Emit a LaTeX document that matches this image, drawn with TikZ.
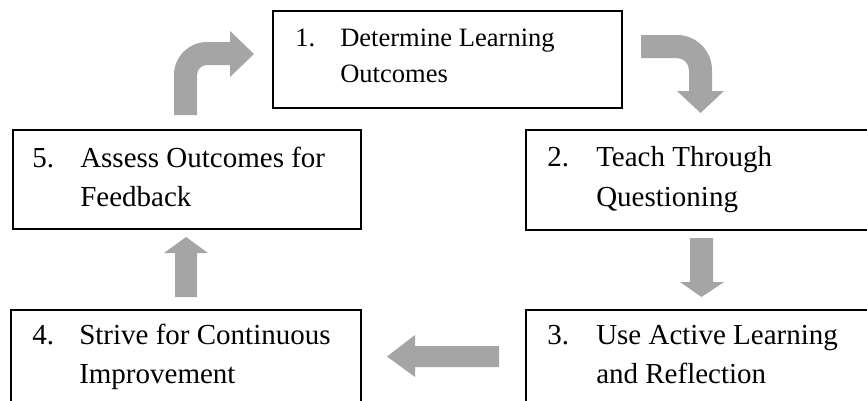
\documentclass[tikz,border=0pt]{standalone}
\usepackage{fontspec}
\setmainfont{Liberation Serif}
\definecolor{arrowgray}{HTML}{A5A5A5}
\tikzset{
  stepbox/.style={draw=black, line width=1.3pt, fill=white, rectangle, inner sep=0pt, anchor=north west},
  numtext/.style={inner sep=0pt, anchor=base west, font=\fontsize{21.75}{29}\selectfont},
  smalltext/.style={inner sep=0pt, anchor=base west, font=\fontsize{19.9}{26}\selectfont},
  blockarrow/.style={fill=arrowgray, draw=none}
}
\begin{document}
\begin{tikzpicture}[x=0.75pt, y=-0.75pt]
\useasboundingbox (0,0) rectangle (867,400);
\clip (0,0) rectangle (867,400);
% boxes
\node[stepbox, minimum width=261.75pt, minimum height=72.75pt] (b1) at (272,10) {};
\node[stepbox, minimum width=266.25pt, minimum height=75pt] (b2) at (525,129) {};
\node[stepbox, minimum width=266.25pt, minimum height=83.25pt] (b3) at (525,309) {};
\node[stepbox, minimum width=262.5pt, minimum height=83.25pt] (b4) at (10,309) {};
\node[stepbox, minimum width=261pt, minimum height=74.25pt] (b5) at (12,129) {};
% texts
\node[smalltext] (n1) at (295,46) {1.};
\node[smalltext] (t1a) at (340,46) {Determine Learning};
\node[smalltext] (t1b) at (340,82) {Outcomes};
\node[numtext] (n2) at (547,166) {2.};
\node[numtext] (t2a) at (596,166) {Teach Through};
\node[numtext] (t2b) at (596,206) {Questioning};
\node[numtext] (n3) at (547,344) {3.};
\node[numtext] (t3a) at (596,344) {Use Active Learning};
\node[numtext] (t3b) at (596,383) {and Reflection};
\node[numtext] (n4) at (32,344) {4.};
\node[numtext] (t4a) at (79,344) {Strive for Continuous};
\node[numtext] (t4b) at (79,383) {Improvement};
\node[numtext] (n5) at (32,167) {5.};
\node[numtext] (t5a) at (80,167) {Assess Outcomes for};
\node[numtext] (t5b) at (80,206) {Feedback};
% arrow 5 -> 1 (bent up-right)
\fill[blockarrow] (174,115) -- (174,75) .. controls (174,56.8) and (188.8,42) .. (207,42)
  -- (230,42) -- (230,31) -- (254,54) -- (230,77) -- (230,65) -- (207,65)
  .. controls (201.5,65) and (197,69.5) .. (197,75) -- (197,115) -- cycle;
% arrow 1 -> 2 (bent right-down)
\fill[blockarrow] (641,35) -- (677,35) .. controls (696.3,35) and (712,50.7) .. (712,70)
  -- (712,91) -- (724,91) -- (700.5,113) -- (677,91) -- (689,91) -- (689,70)
  .. controls (689,63.4) and (683.6,58) .. (677,58) -- (641,58) -- cycle;
% arrow 2 -> 3 (down)
\fill[blockarrow] (690,238) -- (713,238) -- (713,282) -- (724,282) -- (701.5,297)
  -- (680,282) -- (690,282) -- cycle;
% arrow 3 -> 4 (left)
\fill[blockarrow] (499,346) -- (499,367) -- (415,367) -- (415,377) -- (387,356.5)
  -- (415,335) -- (415,346) -- cycle;
% arrow 4 -> 5 (up)
\fill[blockarrow] (175,297) -- (175,253) -- (164,253) -- (186,237) -- (208,253)
  -- (197,253) -- (197,297) -- cycle;
\end{tikzpicture}
\end{document}
